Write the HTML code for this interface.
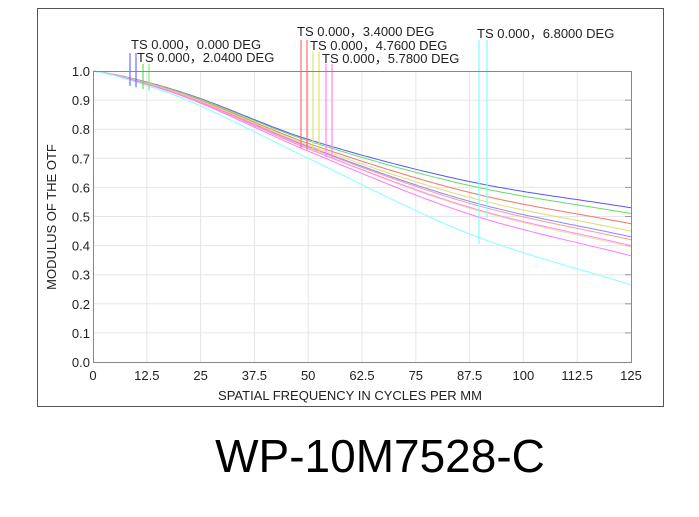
<!DOCTYPE html>
<html><head><meta charset="utf-8"><style>
html,body{margin:0;padding:0;background:#fff;}
svg{display:block;font-family:"Liberation Sans",sans-serif;}
</style></head><body>
<svg id="s" width="699" height="517" viewBox="0 0 699 517" xmlns="http://www.w3.org/2000/svg">
<rect x="37.5" y="8.5" width="626" height="398" fill="#fff" stroke="#555" stroke-width="1"/>
<g id="grid" stroke="#e6e6e6" stroke-width="1"></g>
<g id="ticks" font-size="13" fill="#222"></g>
<g id="curves" fill="none" stroke-width="1"></g>
<g id="marks" stroke-width="1.2"></g>
<rect x="93.5" y="71.5" width="538" height="291" fill="none" stroke="#888"/>
<g font-size="13" fill="#222">
<text x="131" y="49">TS 0.000，0.000 DEG</text>
<text x="137" y="62">TS 0.000，2.0400 DEG</text>
<text x="297" y="36">TS 0.000，3.4000 DEG</text>
<text x="310" y="50">TS 0.000，4.7600 DEG</text>
<text x="322" y="63">TS 0.000，5.7800 DEG</text>
<text x="477" y="38">TS 0.000，6.8000 DEG</text>
<text x="350" y="400" text-anchor="middle">SPATIAL FREQUENCY IN CYCLES PER MM</text>
<text transform="translate(56,217) rotate(-90)" text-anchor="middle">MODULUS OF THE OTF</text>
</g>
<text x="380" y="472" font-size="46" text-anchor="middle" fill="#000">WP-10M7528-C</text>
</svg>
<script>
var NS="http://www.w3.org/2000/svg";
function el(p,t,a,txt){var e=document.createElementNS(NS,t);for(var k in a)e.setAttribute(k,a[k]);if(txt!=null)e.textContent=txt;document.getElementById(p).appendChild(e);return e;}
var X0=93,X1=631,Y0=362,Y1=71;
function px(v){return X0+(X1-X0)*v/125;}function py(m){return Y0-(Y0-Y1)*m;}
for(var i=1;i<10;i++){var x=px(i*12.5);el("grid","line",{x1:x,x2:x,y1:Y1,y2:Y0});}
for(var i=1;i<10;i++){var y=py(i/10);el("grid","line",{x1:X0,x2:X1,y1:y,y2:y});el("grid","line",{x1:X1-6,x2:X1,y1:y,y2:y,stroke:"#999"});}
var xl=["0","12.5","25","37.5","50","62.5","75","87.5","100","112.5","125"];
for(var i=0;i<=10;i++)el("ticks","text",{x:px(i*12.5),y:380,"text-anchor":"middle"},xl[i]);
for(var i=0;i<=10;i++)el("ticks","text",{x:90,y:py(i/10)+5,"text-anchor":"end"},(i/10).toFixed(1));
var vs=[0,12.5,25,50,87.5,125];
var A=[1,0.962,0.905,0.765,0.62,0.53],B=[1,0.95,0.88,0.70,0.44,0.265];
function val(t,v){var a=[];for(var i=0;i<6;i++)a.push(A[i]+(B[i]-A[i])*t);
 for(var i=0;i<5;i++){if(v<=vs[i+1]){var u=(v-vs[i])/(vs[i+1]-vs[i]);
 var m0=i>0?(a[i+1]-a[i-1])/(vs[i+1]-vs[i-1]):(a[1]-a[0])/(vs[1]-vs[0])*0.6;
 var m1=i<4?(a[i+2]-a[i])/(vs[i+2]-vs[i]):(a[5]-a[4])/(vs[5]-vs[4]);
 var h=vs[i+1]-vs[i],u2=u*u,u3=u2*u;
 return (2*u3-3*u2+1)*a[i]+(u3-2*u2+u)*h*m0+(-2*u3+3*u2)*a[i+1]+(u3-u2)*h*m1;}}return a[5];}
var S=[["#5555ff",0.53],["#8888ff",0.43],["#66dd66",0.51],["#99ee99",0.475],["#ff7777",0.475],["#ff9999",0.42],["#dddd77",0.45],["#e6e699",0.395],["#ff88ff",0.40],["#ff77ff",0.365],["#66ffff",0.265],["#99ffff",0.265]];
S.forEach(function(s){var t=(0.53-s[1])/0.265,p=[];for(var v=0;v<=125;v+=1)p.push(px(v).toFixed(1)+","+py(val(t,v)).toFixed(1));el("curves","polyline",{points:p.join(" "),stroke:s[0]});});
var M=[[130,"rgb(110,110,255)",0,53],[136,"rgb(110,110,255)",0,53],[143,"rgb(100,220,100)",0.04,64],[149,"rgb(130,235,130)",0.04,64],[301,"rgb(255,110,110)",0.2,40],[307,"rgb(255,110,110)",0.15,40],[313,"rgb(225,225,110)",0.16,52],[319,"rgb(225,225,110)",0.12,52],[326,"rgb(255,130,255)",0.2,64],[332,"rgb(255,130,255)",0.18,64],[479,"rgb(120,255,255)",0.75,40],[487,"rgb(120,255,255)",0.45,40]];
M.forEach(function(m){var v=(m[0]-X0)/(X1-X0)*125;el("marks","line",{x1:m[0],x2:m[0],y1:m[3],y2:py(val(m[2],v))+(m[2]>0.5?20:8),style:"stroke:"+m[1]});});
</script>
</body></html>
